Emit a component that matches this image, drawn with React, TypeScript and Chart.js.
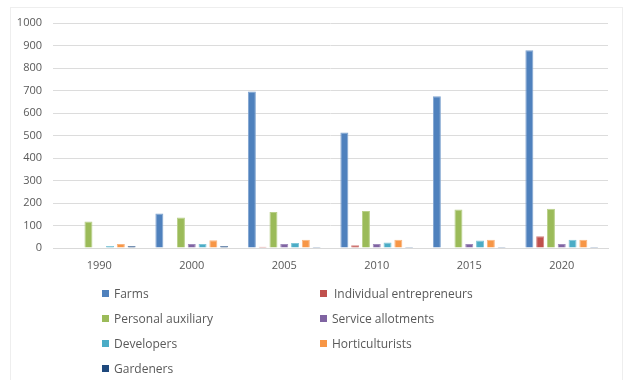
import React, { useEffect, useRef } from "react";
import { Chart, registerables } from "chart.js";

Chart.register(...registerables);

const years = ["1990", "2000", "2005", "2010", "2015", "2020"];
const seriesNames = [
  "Farms",
  "Individual entrepreneurs",
  "Personal auxiliary",
  "Service allotments",
  "Developers",
  "Horticulturists",
  "Gardeners",
];
const farms = [0, 153, 696, 513, 674, 879];
const individualEntrepreneurs = [0, 0, 6, 12, 0, 52];
const personalAuxiliary = [118, 136, 160, 164, 171, 175];
const serviceAllotments = [0, 18, 18, 18, 18, 18];
const developers = [9, 18, 22, 25, 33, 37];
const horticulturists = [18, 34, 37, 37, 37, 37];
const gardeners = [9, 9, 5, 5, 5, 5];
const seriesValues = [
  farms,
  individualEntrepreneurs,
  personalAuxiliary,
  serviceAllotments,
  developers,
  horticulturists,
  gardeners,
];
const seriesColors = ["#4F81BD", "#C0504D", "#9BBB59", "#8064A2", "#4BACC6", "#F79646", "#1F497D"];
const seriesBorders = ["#7FA3D0", "#D38380", "#B9D08A", "#A08CBC", "#80C6D8", "#F9B57F", "#6F8CB0"];
const yTicks = [0, 100, 200, 300, 400, 500, 600, 700, 800, 900, 1000];

const FONT = "'Open Sans', 'Liberation Sans', sans-serif";
const TEXT = "#595959";

// legend layout: two columns, order fills rows
const legendCols = [102, 320];
const legendRows = [293, 318, 343, 368];

export default function App() {
  const ref = useRef<HTMLCanvasElement | null>(null);

  useEffect(() => {
    if (!ref.current) return;
    const chart = new Chart(ref.current, {
      type: "bar",
      data: {
        labels: years,
        datasets: seriesNames.map((name, i) => ({
          label: name,
          data: seriesValues[i],
          backgroundColor: seriesColors[i],
          borderColor: seriesBorders[i],
          borderWidth: 1,
          categoryPercentage: 0.817,
          barPercentage: 0.74,
        })),
      },
      options: {
        animation: false,
        responsive: false,
        maintainAspectRatio: false,
        layout: { padding: { top: 23, right: 18, left: 0, bottom: 0 } },
        plugins: {
          legend: { display: false },
          tooltip: { enabled: false },
        },
        scales: {
          x: {
            grid: { display: false, drawTicks: false },
            border: { display: true, color: "#d9d9d9" },
            ticks: { color: TEXT, font: { family: FONT, size: 11 }, padding: 11 },
            afterFit: (s: any) => {
              s.height = 132;
            },
          },
          y: {
            min: 0,
            max: 1000,
            afterBuildTicks: (s: any) => {
              s.ticks = yTicks.map((v) => ({ value: v }));
            },
            grid: { color: "#dcdcdc", drawTicks: false, lineWidth: 1 },
            border: { display: false },
            ticks: {
              color: TEXT,
              font: { family: FONT, size: 11 },
              padding: 11,
              callback: (v: any) => String(v),
            },
            afterFit: (s: any) => {
              s.width = 53;
            },
          },
        },
      },
    });
    return () => chart.destroy();
  }, []);

  return (
    <div style={{ position: "fixed", left: 0, top: 0, width: 626, height: 380, background: "#fff", overflow: "hidden" }}>
      <div
        style={{
          position: "absolute",
          left: 10,
          top: 7,
          width: 611,
          height: 400,
          border: "1px solid #eeeeee",
        }}
      />
      <canvas ref={ref} width={626} height={380} style={{ position: "absolute", left: 0, top: 0 }} />
      {seriesNames.map((name, i) => {
        const col = legendCols[i % 2];
        const row = legendRows[Math.floor(i / 2)];
        return (
          <div
            key={name}
            style={{
              position: "absolute",
              left: col,
              top: row - 9,
              height: 18,
              display: "flex",
              alignItems: "center",
              fontFamily: FONT,
              fontSize: 12,
              color: TEXT,
              whiteSpace: "nowrap",
            }}
          >
            <span style={{ display: "inline-block", width: 7, height: 7, background: seriesColors[i], marginRight: i === 1 ? 7 : 5 }} />
            <span>{name}</span>
          </div>
        );
      })}
    </div>
  );
}
